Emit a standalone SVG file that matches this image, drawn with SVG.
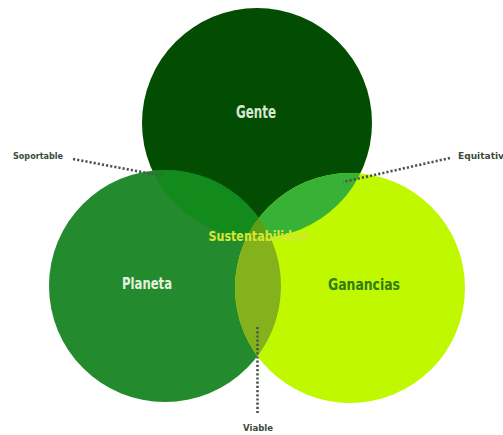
<svg xmlns="http://www.w3.org/2000/svg" width="503" height="435" viewBox="0 0 503 435">
<style>
.lbl{font-family:"DejaVu Sans Condensed","Liberation Sans Narrow","Liberation Sans",sans-serif;font-weight:bold;text-anchor:middle}
.small{font-family:"DejaVu Sans Condensed","Liberation Sans Narrow","Liberation Sans",sans-serif;font-size:9px;fill:#3a4a3a;font-weight:bold}
.dots{stroke:#4a5a4a;stroke-width:2.6;stroke-dasharray:2.2 2;fill:none}
</style>
<defs>
<clipPath id="cG"><circle cx="257" cy="123" r="115"/></clipPath>
<clipPath id="cP"><circle cx="165" cy="286" r="116"/></clipPath>
<clipPath id="cN"><circle cx="350" cy="288" r="115"/></clipPath>
</defs>
<rect width="503" height="435" fill="#ffffff"/>
<g id="gente"><circle cx="257" cy="123" r="115" fill="#024d02"/></g>
<g id="planeta"><circle cx="165" cy="286" r="116" fill="#238b2e"/></g>
<g id="ganancias"><circle cx="350" cy="288" r="115" fill="#c0f800"/></g>
<g id="overlaps">
<g clip-path="url(#cG)"><circle cx="165" cy="286" r="116" fill="#138a1c"/></g>
<g clip-path="url(#cG)"><circle cx="350" cy="288" r="115" fill="#37b236"/></g>
<g clip-path="url(#cP)"><circle cx="350" cy="288" r="115" fill="#84b11c"/></g>
<g clip-path="url(#cP)"><g clip-path="url(#cG)"><circle cx="350" cy="288" r="115" fill="#5c9e18"/></g></g>
</g>
<g id="connectors">
<line class="dots" x1="73" y1="159" x2="163" y2="176"/>
<line class="dots" x1="450" y1="158" x2="343" y2="182"/>
<line class="dots" x1="257.5" y1="327" x2="257.5" y2="413"/>
</g>
<g id="labels">
<text class="lbl" x="256" y="118" font-size="17" fill="#d6e6d2" textLength="40" lengthAdjust="spacingAndGlyphs">Gente</text>
<text class="lbl" x="147" y="289" font-size="16" fill="#e4f2de" textLength="50" lengthAdjust="spacingAndGlyphs">Planeta</text>
<text class="lbl" x="364" y="290" font-size="16" fill="#2f7c12" textLength="72" lengthAdjust="spacingAndGlyphs">Ganancias</text>
<text class="lbl" x="258" y="241" font-size="14" fill="#d2e832" textLength="99" lengthAdjust="spacingAndGlyphs">Sustentabilidad</text>
<text class="small" x="13" y="159" textLength="50" lengthAdjust="spacingAndGlyphs">Soportable</text>
<text class="small" x="458" y="159" textLength="46" lengthAdjust="spacingAndGlyphs">Equitativ</text>
<text class="small" x="243" y="431" textLength="30" lengthAdjust="spacingAndGlyphs">Viable</text>
</g>
</svg>
